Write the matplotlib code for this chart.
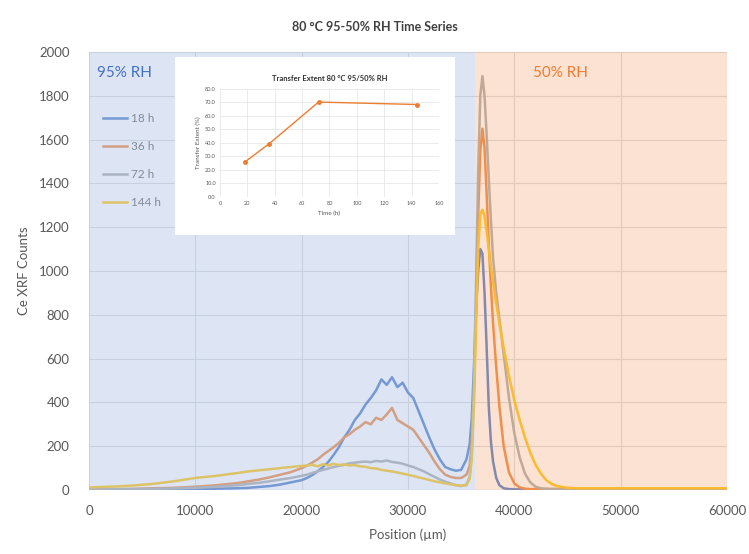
import matplotlib
matplotlib.use("Agg")
import matplotlib.pyplot as plt

plt.rcParams["font.family"] = ["Lato", "DejaVu Sans"]

# ---------- data ----------
position = [0, 2000, 4000, 6000, 8000, 10000, 12000, 14000, 15000, 16000, 17000, 18000, 19000, 20000,
            20500, 21000, 21500, 22000, 22500, 23000, 23500, 24000, 24500, 25000, 25500, 26000,
            26500, 27000, 27500, 28000, 28500, 29000, 29500, 30000, 30500, 31000, 31500, 32000,
            32500, 33000, 33500, 34000, 34500, 35000, 35500,
            35800, 36000, 36200, 36400, 36600, 36800, 37000, 37200, 37400, 37600, 37800, 38000,
            38300, 38600, 39000, 39500, 40000, 40500, 41000, 41500, 42000, 42500, 43000, 43500, 44000,
            45000, 46000, 48000, 50000, 52000, 55000, 58000, 60000]

counts_18h = [2, 2, 3, 3, 4, 5, 6, 8, 10, 14, 18, 25, 35, 45,
              55, 68, 85, 105, 128, 160, 195, 240, 275, 320, 350, 390,
              420, 455, 505, 480, 515, 470, 490, 445, 420, 360, 300, 240,
              185, 140, 105, 95, 88, 92, 140,
              210, 330, 560, 820, 1000, 1100, 1080, 900, 650, 380, 220, 130,
              55, 22, 8, 4, 3, 3, 3, 3, 3, 3, 3, 3, 3,
              3, 3, 3, 3, 3, 3, 3, 3]

counts_36h = [3, 4, 5, 8, 10, 15, 22, 32, 40, 48, 58, 70, 82, 100,
              112, 125, 140, 160, 178, 195, 215, 240, 255, 275, 290, 310,
              300, 330, 320, 345, 375, 320, 305, 290, 275, 240, 205, 170,
              130, 95, 70, 60, 55, 55, 70,
              110, 220, 450, 820, 1250, 1550, 1650, 1560, 1350, 1120, 930, 760,
              560, 380, 200, 80, 30, 12, 6, 4, 4, 4, 4, 4, 4,
              4, 4, 4, 4, 4, 4, 4, 4]

counts_72h = [3, 3, 4, 5, 7, 10, 15, 22, 28, 33, 40, 48, 55, 65,
              70, 78, 85, 92, 98, 105, 110, 115, 122, 125, 128, 130,
              127, 133, 130, 135, 128, 125, 120, 112, 105, 95, 85, 72,
              60, 48, 38, 30, 22, 18, 25,
              60, 180, 480, 950, 1450, 1800, 1890, 1800, 1620, 1420, 1230, 1060,
              900, 780, 620, 420, 260, 150, 75, 35, 15, 8, 6, 5, 5,
              5, 5, 5, 5, 5, 5, 5, 5]

counts_144h = [12, 15, 20, 28, 40, 55, 65, 78, 85, 90, 95, 100, 105, 110,
               112, 115, 108, 118, 112, 120, 114, 117, 112, 114, 108, 106,
               100, 98, 92, 88, 85, 80, 75, 70, 64, 58, 52, 46,
               40, 35, 30, 26, 22, 20, 22,
               50, 140, 380, 760, 1100, 1260, 1280, 1250, 1180, 1100, 1020, 950,
               850, 760, 650, 520, 410, 320, 240, 170, 115, 75, 45, 28, 18,
               10, 8, 8, 8, 8, 8, 8, 8]

series_labels = ["18 h", "36 h", "72 h", "144 h"]
series_colors = ["#4472C4", "#ED7D31", "#A5A5A5", "#FFC000"]

# inset: transfer extent vs time
time_h = [18, 36, 72, 144]
transfer_pct = [25.8, 39.5, 70.3, 68.5]

# ---------- figure ----------
fig = plt.figure(figsize=(7.49, 5.54), dpi=100)
ax = fig.add_axes([0.1188, 0.1155, 0.8518, 0.7906])

for y, lab, col in zip([counts_18h, counts_36h, counts_72h, counts_144h], series_labels, series_colors):
    ax.plot(position, y, color=col, lw=1.8, label=lab, zorder=3)

# shaded regions drawn over the traces, as in the original
ax.axvspan(0, 36300, color="#B4C7E7", alpha=0.45, lw=0, zorder=6)
ax.axvspan(36300, 60000, color="#F4B183", alpha=0.36, lw=0, zorder=6)

ax.set_xlim(0, 60000)
ax.set_ylim(0, 2000)
ax.set_xticks(range(0, 60001, 10000))
ax.set_yticks(range(0, 2001, 200))
ax.grid(True, color="#D9D9D9", lw=0.8, zorder=0)
ax.set_axisbelow(True)
for s in ax.spines.values():
    s.set_visible(False)
ax.axhline(0, color="#BFBFBF", lw=0.8, zorder=2)
ax.tick_params(length=0, labelsize=9.5, labelcolor="#595959")
ax.tick_params(axis="y", pad=14)
ax.tick_params(axis="x", pad=11)
ax.set_xlabel("Position (\u00b5m)", fontsize=9.5, color="#595959", labelpad=8)
ax.set_ylabel("Ce XRF Counts", fontsize=9.5, color="#595959")
ax.yaxis.set_label_coords(-0.092, 0.5)

fig.text(0.5, 0.951, "80 \u00b0C 95-50% RH Time Series", ha="center", va="center",
         fontsize=9, fontweight="bold", color="#404040")

ax.text(750, 1905, "95% RH", fontsize=11, color="#4472C4", va="center", zorder=7)
ax.text(41750, 1905, "50% RH", fontsize=11, color="#ED7D31", va="center", zorder=7)

leg = ax.legend(loc="upper left", bbox_to_anchor=(0.006, 0.885), frameon=False, fontsize=8.5,
                handlelength=2.0, labelspacing=1.45, handletextpad=0.3)
for t in leg.get_texts():
    t.set_color("#595959")
leg.set_zorder(5)

# ---------- inset ----------
box = fig.add_axes([0.2336, 0.5758, 0.3738, 0.3213])
box.set_facecolor("white")
box.set_xticks([])
box.set_yticks([])
for s in box.spines.values():
    s.set_visible(False)

ins = fig.add_axes([0.2937, 0.6444, 0.2924, 0.195])
ins.plot(time_h, transfer_pct, color="#ED7D31", lw=1.0, marker="o", ms=2.5)
ins.set_xlim(0, 160)
ins.set_ylim(0, 80)
ins.set_xticks(range(0, 161, 20))
ins.set_yticks(range(0, 81, 10))
ins.set_yticklabels([f"{v:.1f}" for v in range(0, 81, 10)])
ins.grid(True, color="#E3E3E3", lw=0.5)
ins.set_axisbelow(True)
for s in ins.spines.values():
    s.set_visible(False)
ins.axhline(0, color="#BFBFBF", lw=0.6)
ins.tick_params(length=0, labelsize=4, labelcolor="#595959", pad=3)
ins.set_xlabel("Time (h)", fontsize=4.5, color="#595959", labelpad=3)
ins.set_ylabel("Transfer Extent (%)", fontsize=4.5, color="#595959", labelpad=3)
ins.set_title("Transfer Extent 80 \u00b0C 95/50% RH", fontsize=5.5, fontweight="bold",
              color="#303030", pad=6)

fig.savefig("out.png", dpi=100)
